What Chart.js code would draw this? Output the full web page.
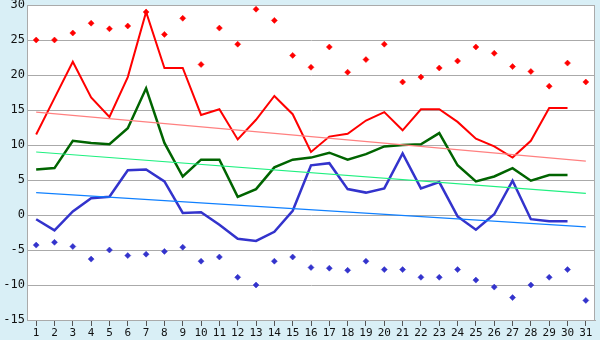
<!DOCTYPE html>
<html lang="en">
<head>
    <meta charset="UTF-8">
    <title>Daily Temperatures</title>
    <script src="https://cdn.jsdelivr.net/npm/chart.js"></script>
    <style>
        html, body { margin: 0; padding: 0; background: #d9eff6; }
        #wrap { width: 600px; height: 340px; }
    </style>
</head>
<body>
    <div id="wrap"><canvas id="tempChart" width="600" height="340"></canvas></div>

    <script>
        const days = ['1','2','3','4','5','6','7','8','9','10','11','12','13','14','15','16',
                      '17','18','19','20','21','22','23','24','25','26','27','28','29','30','31'];

        // absolute max / min (dots)
        const maxDots = [25, 25, 26, 27.4, 26.6, 27, 29, 25.8, 28.1, 21.5, 26.7, 24.4, 29.4, 27.8, 22.8, 21.1,
                         24, 20.4, 22.2, 24.4, 19, 19.7, 21, 22, 24, 23.1, 21.2, 20.5, 18.4, 21.7, 19];
        const minDots = [-4.3, -3.9, -4.5, -6.3, -5, -5.8, -5.6, -5.2, -4.6, -6.6, -6, -8.9, -10, -6.6, -6, -7.5,
                         -7.6, -7.9, -6.6, -7.8, -7.8, -8.9, -8.9, -7.8, -9.3, -10.3, -11.8, -10, -8.9, -7.8, -12.2];

        // daily series
        const maxLine = [11.5, 16.7, 21.9, 16.8, 14, 19.7, 29, 21, 21, 14.3, 15.1, 10.8, 13.6, 17, 14.4, 9,
                         11.2, 11.6, 13.5, 14.7, 12.1, 15.1, 15.1, 13.3, 10.9, 9.8, 8.2, 10.6, 15.3, 15.3, null];
        const meanLine = [6.5, 6.7, 10.6, 10.3, 10.1, 12.4, 18.1, 10.3, 5.5, 7.9, 7.9, 2.6, 3.7, 6.8, 7.9, 8.2,
                          8.9, 7.9, 8.7, 9.8, 10, 10.1, 11.7, 7.1, 4.8, 5.5, 6.7, 4.9, 5.7, 5.7, null];
        const minLine = [-0.6, -2.2, 0.5, 2.4, 2.6, 6.4, 6.5, 4.8, 0.3, 0.4, -1.4, -3.4, -3.7, -2.4, 0.6, 7.1,
                         7.4, 3.7, 3.2, 3.8, 8.8, 3.8, 4.7, -0.2, -2.1, 0.1, 4.9, -0.6, -0.9, -0.9, null];

        // trend line end points (day 1, day 31)
        const maxTrend = [14.7, 7.7];
        const meanTrend = [9.0, 3.1];
        const minTrend = [3.2, -1.7];

        function trend(ends) {
            const arr = days.map(() => null);
            arr[0] = ends[0];
            arr[arr.length - 1] = ends[1];
            return arr;
        }

        const plotBg = {
            id: 'plotBg',
            beforeDraw(chart) {
                const { ctx, chartArea: a } = chart;
                ctx.save();
                ctx.fillStyle = '#d9eff6';
                ctx.fillRect(0, 0, chart.width, chart.height);
                ctx.fillStyle = '#ffffff';
                ctx.fillRect(a.left, a.top, a.right - a.left, a.bottom - a.top);
                ctx.restore();
            },
            afterDraw(chart) {
                const { ctx, chartArea: a } = chart;
                ctx.save();
                ctx.strokeStyle = '#aaaaaa';
                ctx.lineWidth = 1;
                ctx.strokeRect(a.left + 0.5, a.top + 0.5, a.right - a.left - 1, a.bottom - a.top);
                ctx.restore();
            }
        };

        const lineSet = (data, color, width) => ({
            type: 'line', data, borderColor: color, backgroundColor: color,
            borderWidth: width, pointRadius: 0, tension: 0, fill: false
        });
        const trendSet = (ends, color) => ({
            type: 'line', data: trend(ends), borderColor: color, borderWidth: 1.2,
            pointRadius: 0, spanGaps: true, fill: false
        });
        const dotSet = (data, color) => ({
            type: 'line', data, showLine: false, pointStyle: 'rectRot', pointRadius: 3,
            pointBackgroundColor: color, pointBorderColor: color, pointBorderWidth: 0.5
        });

        new Chart(document.getElementById('tempChart'), {
            type: 'line',
            data: {
                labels: days,
                datasets: [
                    trendSet(maxTrend, '#ff8080'),
                    trendSet(meanTrend, '#20f080'),
                    trendSet(minTrend, '#1080ff'),
                    lineSet(maxLine, '#ff0000', 2),
                    lineSet(meanLine, '#006400', 2.5),
                    lineSet(minLine, '#3333cc', 2.5),
                    dotSet(maxDots, '#ff0000'),
                    dotSet(minDots, '#3333cc')
                ]
            },
            options: {
                responsive: false,
                animation: false,
                layout: { padding: { top: 5, right: 5, left: 0, bottom: 0 } },
                plugins: { legend: { display: false }, tooltip: { enabled: false } },
                scales: {
                    x: {
                        offset: true,
                        grid: { drawOnChartArea: false, tickLength: 6, color: '#555555' },
                        border: { color: '#aaaaaa' },
                        ticks: { color: '#111', font: { family: 'DejaVu Sans Mono', size: 11 },
                                 padding: 1, maxRotation: 0, autoSkip: false },
                        afterFit(s) { s.height = 20; }
                    },
                    y: {
                        min: -15, max: 30,
                        ticks: { stepSize: 5, color: '#111', font: { family: 'DejaVu Sans Mono', size: 12 },
                                 padding: 2 },
                        grid: { color: '#aaaaaa', drawTicks: false },
                        border: { color: '#aaaaaa' },
                        afterFit(s) { s.width = 27; s.paddingTop = 0; s.paddingBottom = 0; }
                    }
                }
            },
            plugins: [plotBg]
        });
    </script>
</body>
</html>
